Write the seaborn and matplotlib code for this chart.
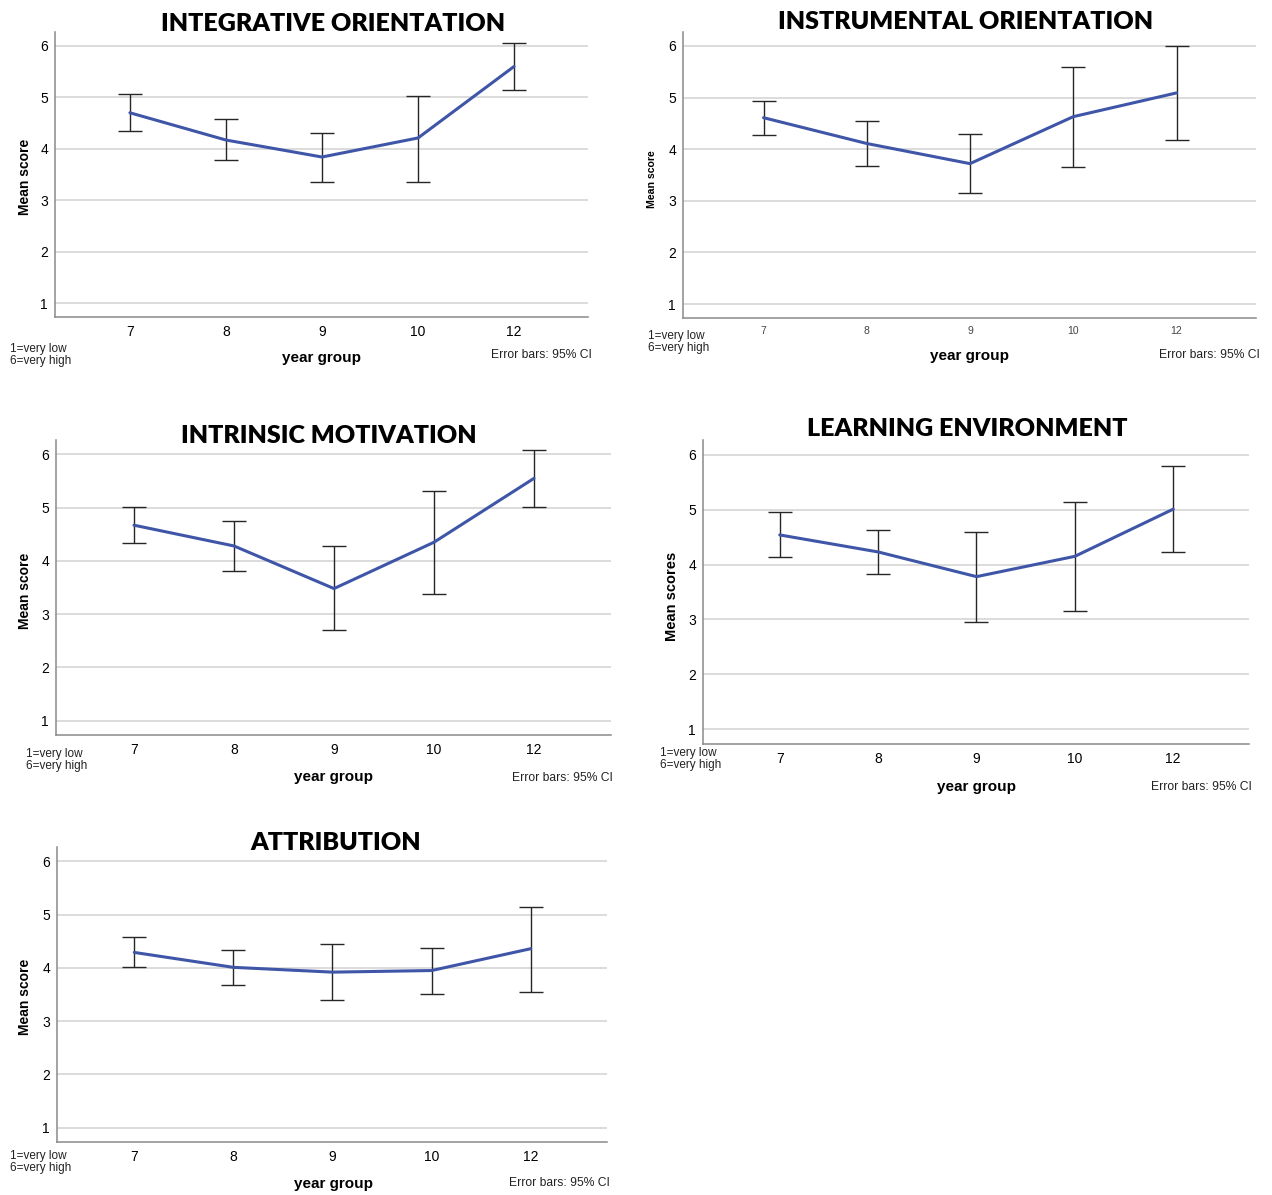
import numpy as np
import pandas as pd
import matplotlib
matplotlib.use("Agg")
import matplotlib.pyplot as plt
import seaborn as sns

# ---- data: mean scores and 95% CI bounds by year group ----
year_groups = ["7", "8", "9", "10", "12"]

integrative_mean = [4.70, 4.17, 3.84, 4.21, 5.60]
integrative_lo = [4.34, 3.78, 3.36, 3.36, 5.15]
integrative_hi = [5.07, 4.57, 4.30, 5.03, 6.05]

instrumental_mean = [4.61, 4.11, 3.72, 4.63, 5.09]
instrumental_lo = [4.28, 3.68, 3.16, 3.66, 4.18]
instrumental_hi = [4.93, 4.54, 4.29, 5.59, 6.00]

intrinsic_mean = [4.67, 4.28, 3.48, 4.35, 5.55]
intrinsic_lo = [4.33, 3.81, 2.71, 3.38, 5.01]
intrinsic_hi = [5.02, 4.74, 4.27, 5.32, 6.09]

environment_mean = [4.54, 4.23, 3.78, 4.15, 5.01]
environment_lo = [4.13, 3.83, 2.96, 3.16, 4.23]
environment_hi = [4.95, 4.63, 4.59, 5.14, 5.79]

attribution_mean = [4.29, 4.01, 3.92, 3.95, 4.36]
attribution_lo = [4.02, 3.68, 3.40, 3.51, 3.55]
attribution_hi = [4.58, 4.34, 4.44, 4.38, 5.15]

titles = ["INTEGRATIVE ORIENTATION", "INSTRUMENTAL ORIENTATION",
          "INTRINSIC MOTIVATION", "LEARNING ENVIRONMENT", "ATTRIBUTION"]
ylabels = ["Mean score", "Mean score", "Mean score", "Mean scores", "Mean score"]
scale_note = "1=very low\n6=very high"
ci_note = "Error bars: 95% CI"
xlabel = "year group"

series = [
    (integrative_mean, integrative_lo, integrative_hi),
    (instrumental_mean, instrumental_lo, instrumental_hi),
    (intrinsic_mean, intrinsic_lo, intrinsic_hi),
    (environment_mean, environment_lo, environment_hi),
    (attribution_mean, attribution_lo, attribution_hi),
]

# ---- layout (pixel coordinates on a 1272 x 1195 canvas) ----
W, H = 1272, 1195
# axes boxes: left, top, right, bottom
boxes = [(55, 32, 588, 317), (683, 32, 1256, 318), (56, 440, 611, 735),
         (703, 440, 1249, 744), (57, 847, 607, 1142)]
title_xy = [(333, 24), (966, 22), (329, 436), (967, 429), (336, 843)]
ylabel_xy = [(25, 177), (652, 179), (25, 591), (672, 596), (25, 997)]
ylabel_size = [10, 7.6, 10, 10.5, 10]
xlabel_xy = [(322, 358), (970, 356), (334, 777), (976, 787), (333, 1184)]
note_xy = [(10, 355), (648, 342), (26, 760), (660, 759), (10, 1162)]
ci_xy = [(592, 355), (1260, 355), (613, 778), (1252, 787), (610, 1183)]
xtick_size = [10, 7.5, 10, 10, 10]

BLUE = "#3f56a8"
GRID = "#d2d2d2"
SPINE = "#8a8a8a"
INK = "#000000"

sns.set_theme(style="white")
plt.rcParams["font.family"] = ["Liberation Sans", "DejaVu Sans"]
plt.rcParams["text.color"] = INK
NARROW = ["Liberation Sans Narrow", "Liberation Sans", "DejaVu Sans"]

fig = plt.figure(figsize=(W / 100, H / 100), dpi=100)


def fx(x):
    return x / W


def fy(y):
    return 1 - y / H


for i, (box, (m, lo, hi)) in enumerate(zip(boxes, series)):
    l, t, r, b = box
    ax = fig.add_axes([fx(l), fy(b), (r - l) / W, (b - t) / H])
    pos = np.arange(len(year_groups))
    m = np.asarray(m)
    lo = np.asarray(lo)
    hi = np.asarray(hi)
    df = pd.DataFrame({"pos": pos, "mean": m, "year": year_groups})

    ax.errorbar(pos, m, yerr=[m - lo, hi - m], fmt="none", ecolor="#262626",
                elinewidth=1.0, capsize=8.6, capthick=1.0, zorder=2)
    sns.lineplot(data=df, x="pos", y="mean", sort=False, color=BLUE,
                 linewidth=2.2, ax=ax, zorder=3)

    ax.set_xlim(-0.78, 4.77)
    ax.set_ylim(0.73, 6.27)
    ax.set_yticks([1, 2, 3, 4, 5, 6])
    ax.set_xticks(pos)
    ax.set_xticklabels(year_groups)
    ax.yaxis.grid(True, color=GRID, linewidth=1.1)
    ax.xaxis.grid(False)
    ax.set_axisbelow(True)
    ax.tick_params(axis="both", length=0)
    ax.tick_params(axis="y", labelsize=10, pad=5, labelcolor=INK)
    ax.tick_params(axis="x", labelsize=xtick_size[i], pad=6,
                   labelcolor=INK if i != 1 else "#444444")
    for s in ("top", "right"):
        ax.spines[s].set_visible(False)
    for s in ("left", "bottom"):
        ax.spines[s].set_color(SPINE)
        ax.spines[s].set_linewidth(1.1)
    ax.set_xlabel("")
    ax.set_ylabel("")

    fig.text(fx(title_xy[i][0]), fy(title_xy[i][1]), titles[i],
             family=["Lato", "DejaVu Sans"], fontweight="heavy", fontsize=18,
             ha="center", va="center", color=INK)
    fig.text(fx(ylabel_xy[i][0]), fy(ylabel_xy[i][1]), ylabels[i],
             fontweight="bold", fontsize=ylabel_size[i], rotation=90,
             ha="center", va="center", color=INK)
    fig.text(fx(xlabel_xy[i][0]), fy(xlabel_xy[i][1]), xlabel,
             fontweight="bold", fontsize=11, ha="center", va="center",
             color=INK)
    fig.text(fx(note_xy[i][0]), fy(note_xy[i][1]), scale_note,
             family=NARROW, fontsize=8.5, ha="left", va="center",
             linespacing=1.05, color="#222222")
    fig.text(fx(ci_xy[i][0]), fy(ci_xy[i][1]), ci_note,
             family=NARROW, fontsize=8.7, ha="right", va="center",
             color="#222222")

fig.savefig("out.png", dpi=100, facecolor="white")
